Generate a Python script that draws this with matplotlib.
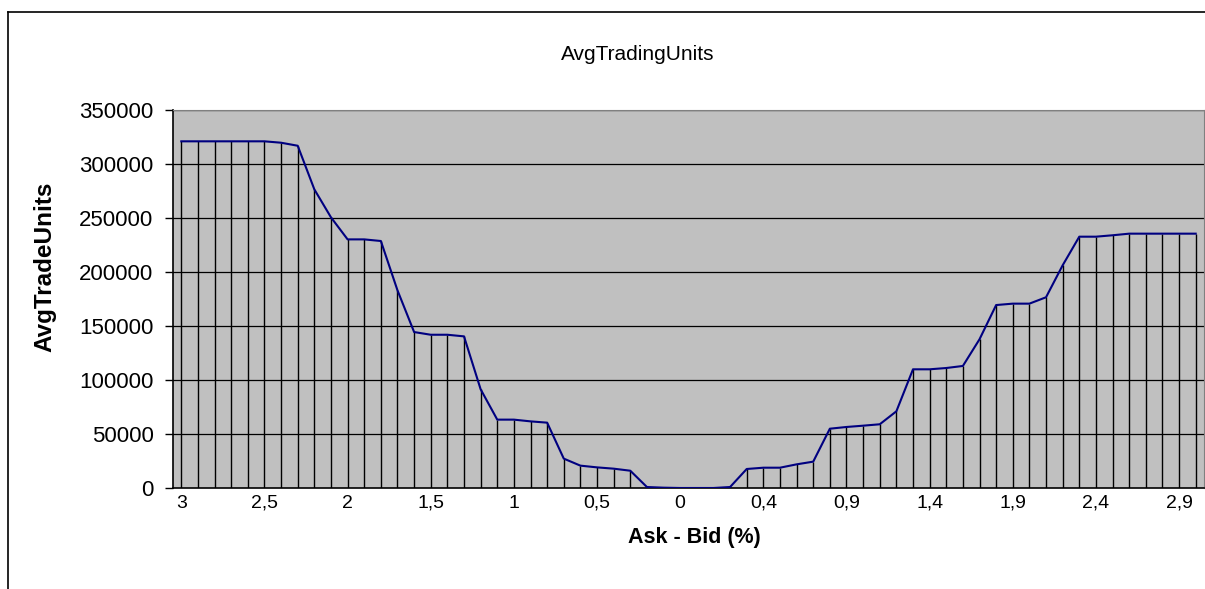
import numpy as np
import matplotlib.pyplot as plt
from matplotlib.lines import Line2D

plt.rcParams['font.family'] = ['Liberation Sans', 'DejaVu Sans']

# spread (Ask - Bid, %) : falling from 3 to 0, then rising again from 0 to 3
spread = [3.0, 2.9, 2.8, 2.7, 2.6, 2.5, 2.4, 2.3, 2.2, 2.1,
          2.0, 1.9, 1.8, 1.7, 1.6, 1.5, 1.4, 1.3, 1.2, 1.1,
          1.0, 0.9, 0.8, 0.7, 0.6, 0.5, 0.4, 0.3, 0.2, 0.1,
          0.0,
          0.0, 0.1, 0.2, 0.3, 0.4, 0.5, 0.6, 0.7, 0.8, 0.9,
          1.0, 1.1, 1.2, 1.3, 1.4, 1.5, 1.6, 1.7, 1.8, 1.9,
          2.0, 2.1, 2.2, 2.3, 2.4, 2.5, 2.6, 2.7, 2.8, 2.9,
          3.0]

avg_units = [321000, 321000, 321000, 321000, 321000, 321000, 319700, 316900, 276500, 250600,
             230200, 230200, 228700, 183000, 144400, 141900, 141900, 140400, 91400, 63300,
             63300, 61700, 60500, 27200, 20700, 19100, 17900, 16000, 900, 300,
             0,
             0, 0, 900, 17600, 18800, 18800, 21900, 24400, 54900,
             56500, 57700, 59000, 71000, 109900, 109900, 111100, 113000, 137700, 169400,
             170700, 170700, 176600, 206200, 232700, 232700, 234000, 235500, 235500, 235500,
             235500, 235500]

yticks = [0, 50000, 100000, 150000, 200000, 250000, 300000, 350000]

W, H = 1205, 589
fig = plt.figure(figsize=(W / 100, H / 100), dpi=100)
ax = fig.add_axes([173 / W, (H - 488) / H, 1031 / W, 378 / H])

x = np.arange(len(avg_units))
ax.set_facecolor('#C0C0C0')
for y in yticks[1:]:
    ax.axhline(y, color='black', lw=0.9, zorder=1)
ax.vlines(x, 0, avg_units, color='black', lw=1.0, zorder=2)
ax.plot(x, avg_units, color='#000080', lw=1.5, zorder=3)

ax.set_xlim(-0.5, len(avg_units) - 0.5)
ax.set_ylim(0, 350000)
ax.set_yticks(yticks)
ax.set_yticklabels([str(v) for v in yticks], fontsize=16)

shown = list(range(0, len(spread), 5))
ax.set_xticks(shown)
ax.set_xticklabels([('%g' % spread[i]).replace('.', ',') for i in shown], fontsize=14)
ax.tick_params(axis='x', length=0, pad=5)
ax.tick_params(axis='y', length=6, width=1, color='black', pad=8)

for side in ['top', 'right']:
    ax.spines[side].set_color('#808080')
for side in ['left', 'bottom']:
    ax.spines[side].set_color('black')
    ax.spines[side].set_linewidth(1.2)

fig.text(694 / W, 1 - 537 / H, 'Ask - Bid (%)', fontsize=15.5, fontweight='bold', ha='center', va='center')
fig.text(45 / W, 1 - 267 / H, 'AvgTradeUnits', fontsize=17.5, fontweight='bold', rotation=90,
         ha='center', va='center')
fig.text(638 / W, 1 - 55 / H, 'AvgTradingUnits', fontsize=15, ha='center', va='center')

# chart frame (left and top edges inside the page)
fig.add_artist(Line2D([8 / W, 8 / W], [0, 1 - 12 / H], transform=fig.transFigure, color='black', lw=1.2))
fig.add_artist(Line2D([8 / W, 1], [1 - 12 / H, 1 - 12 / H], transform=fig.transFigure, color='black', lw=1.2))

fig.savefig('out.png', dpi=100)
